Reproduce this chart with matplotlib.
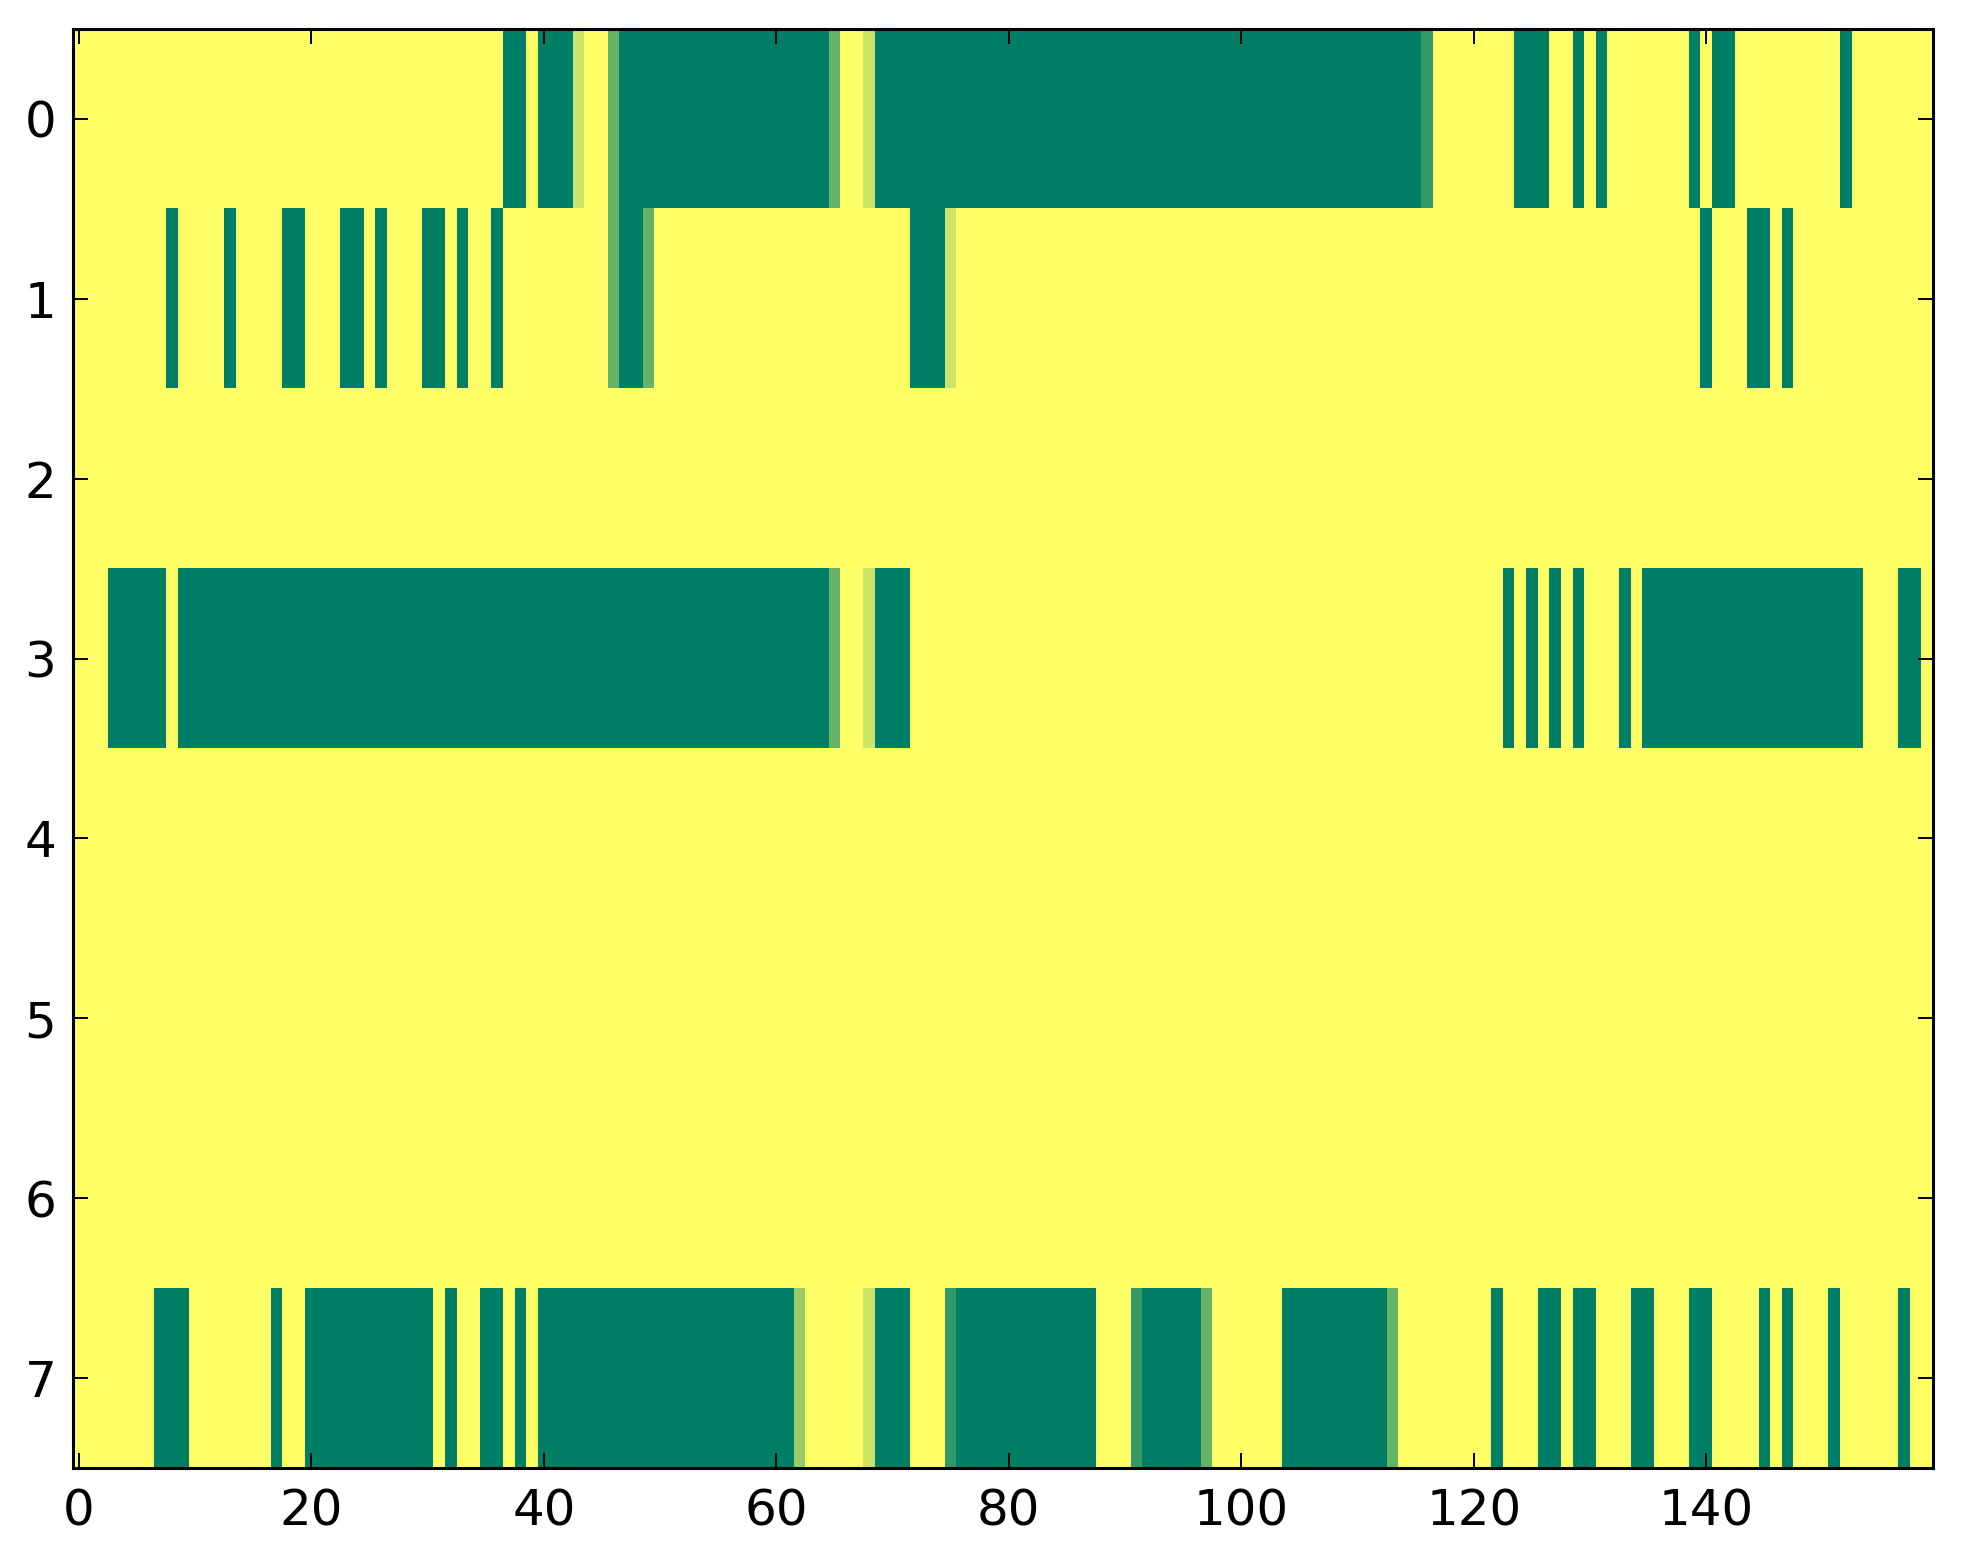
import numpy as np
import matplotlib
matplotlib.use("Agg")
import matplotlib.pyplot as plt

n_rows = 8
n_cols = 160

# cells that are not 1.0, as (first column, last column, value)
row0_runs = [(37, 38, 0), (40, 42, 0), (43, 43, 0.8), (46, 46, 0.4), (47, 64, 0),
             (65, 65, 0.4), (68, 68, 0.8), (69, 115, 0), (116, 116, 0.2),
             (124, 126, 0), (129, 129, 0), (131, 131, 0), (139, 139, 0),
             (141, 142, 0), (152, 152, 0)]
row1_runs = [(8, 8, 0), (13, 13, 0), (18, 19, 0), (23, 24, 0), (26, 26, 0),
             (30, 31, 0), (33, 33, 0), (36, 36, 0), (46, 46, 0.4), (47, 48, 0),
             (49, 49, 0.4), (72, 74, 0), (75, 75, 0.8), (140, 140, 0),
             (144, 145, 0), (147, 147, 0)]
row2_runs = []
row3_runs = [(3, 7, 0), (9, 64, 0), (65, 65, 0.4), (68, 68, 0.8), (69, 71, 0),
             (123, 123, 0), (125, 125, 0), (127, 127, 0), (129, 129, 0),
             (133, 133, 0), (135, 153, 0), (157, 158, 0)]
row4_runs = []
row5_runs = []
row6_runs = []
row7_runs = [(7, 9, 0), (17, 17, 0), (20, 30, 0), (32, 32, 0), (35, 36, 0),
             (38, 38, 0), (40, 61, 0), (62, 62, 0.6), (68, 68, 0.8), (69, 71, 0),
             (75, 75, 0.2), (76, 87, 0), (91, 91, 0.2), (92, 96, 0), (97, 97, 0.4),
             (104, 112, 0), (113, 113, 0.4), (122, 122, 0), (126, 127, 0),
             (129, 130, 0), (134, 135, 0), (139, 140, 0), (145, 145, 0),
             (147, 147, 0), (151, 151, 0), (157, 157, 0)]

all_runs = [row0_runs, row1_runs, row2_runs, row3_runs,
            row4_runs, row5_runs, row6_runs, row7_runs]

data = np.ones((n_rows, n_cols))
for r, runs in enumerate(all_runs):
    for a, b, v in runs:
        data[r, a:b + 1] = v

xticks = [0, 20, 40, 60, 80, 100, 120, 140]
yticks = [0, 1, 2, 3, 4, 5, 6, 7]

fig = plt.figure(figsize=(9.815, 7.82), dpi=200)
ax = fig.add_axes([0.0372, 0.0614, 0.9475, 0.9201])
ax.imshow(data, cmap="summer", vmin=0, vmax=1, aspect="auto", interpolation="nearest")

ax.set_xticks(xticks)
ax.set_yticks(yticks)
ax.tick_params(direction="in", length=5.4, width=0.7, top=True, right=True,
               labelsize=18)
ax.tick_params(axis="x", pad=7)
ax.tick_params(axis="y", pad=6)
for s in ax.spines.values():
    s.set_linewidth(1.1)

fig.savefig("out.png", dpi=200, facecolor="white")
